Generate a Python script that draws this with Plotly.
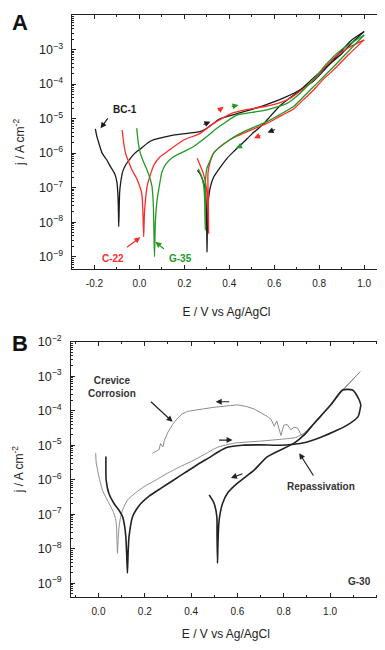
import numpy as np
import plotly.graph_objects as go

# ---------------- Panel A data (E in V vs Ag/AgCl, log10 j in A cm^-2) ----------------
bc1_fwd_E = [-0.196, -0.190, -0.180, -0.166, -0.145, -0.129, -0.110, -0.100, -0.095, -0.093, -0.092,
             -0.090, -0.088, -0.084, -0.075, -0.062, -0.040, -0.020, 0.004, 0.050, 0.150, 0.270, 0.300,
             0.360, 0.450, 0.550, 0.650, 0.720, 0.780, 0.864, 0.940, 1.000]
bc1_fwd_logj = [-5.30, -5.50, -5.72, -6.00, -6.20, -6.39, -6.60, -6.85, -7.30, -7.80, -8.13,
                -7.60, -7.15, -6.88, -6.55, -6.35, -6.15, -6.00, -5.88, -5.65, -5.48, -5.38, -5.28,
                -5.00, -4.83, -4.63, -4.38, -4.15, -3.88, -3.30, -2.75, -2.48]
bc1_rev_E = [1.000, 0.950, 0.900, 0.834, 0.770, 0.716, 0.660, 0.627, 0.580, 0.553, 0.500, 0.464,
             0.420, 0.390, 0.350, 0.330, 0.315, 0.305, 0.302, 0.301, 0.299, 0.296, 0.290, 0.280,
             0.270, 0.258]
bc1_rev_logj = [-2.48, -2.78, -3.12, -3.49, -3.85, -4.17, -4.45, -4.62, -4.95, -5.15, -5.45, -5.68,
                -5.95, -6.15, -6.50, -6.70, -7.00, -7.50, -8.30, -8.86, -8.00, -7.30, -6.95, -6.75,
                -6.60, -6.50]

c22_fwd_E = [-0.077, -0.070, -0.062, -0.045, -0.033, -0.015, -0.003, 0.008, 0.012, 0.016, 0.019,
             0.022, 0.025, 0.034, 0.050, 0.064, 0.090, 0.123, 0.197, 0.271, 0.330, 0.380, 0.410,
             0.470, 0.558, 0.620, 0.671, 0.720, 0.775, 0.820, 0.864, 0.930, 1.000]
c22_fwd_logj = [-5.33, -5.70, -6.00, -6.30, -6.49, -6.70, -6.88, -7.10, -7.26, -7.80, -8.42,
                -7.80, -7.50, -6.97, -6.60, -6.35, -6.12, -5.96, -5.62, -5.43, -5.14, -4.95, -4.85,
                -4.75, -4.65, -4.55, -4.41, -4.18, -3.88, -3.55, -3.25, -2.95, -2.72]
c22_rev_E = [1.000, 0.930, 0.864, 0.820, 0.775, 0.730, 0.686, 0.620, 0.567, 0.520, 0.479, 0.430,
             0.390, 0.350, 0.330, 0.315, 0.305, 0.306, 0.308, 0.303, 0.298, 0.285, 0.270, 0.257]
c22_rev_logj = [-2.72, -3.15, -3.59, -3.85, -4.17, -4.45, -4.72, -4.95, -5.14, -5.27, -5.38, -5.52,
                -5.67, -5.87, -6.00, -6.25, -6.58, -7.20, -8.32, -7.40, -7.00, -6.60, -6.35, -6.15]

g35_fwd_E = [-0.012, -0.005, 0.004, 0.020, 0.034, 0.050, 0.056, 0.062, 0.067, 0.071, 0.078, 0.090,
             0.100, 0.120, 0.153, 0.200, 0.241, 0.300, 0.340, 0.375, 0.434, 0.500, 0.567, 0.656,
             0.700, 0.745, 0.790, 0.834, 0.900, 1.000]
g35_fwd_logj = [-5.28, -5.70, -6.00, -6.28, -6.49, -6.80, -6.97, -7.50, -9.00, -8.00, -7.40, -6.90,
                -6.55, -6.30, -6.10, -5.95, -5.81, -5.52, -5.30, -5.14, -4.90, -4.82, -4.75, -4.56,
                -4.35, -4.07, -3.75, -3.40, -3.00, -2.58]
g35_rev_E = [1.000, 0.930, 0.864, 0.790, 0.740, 0.686, 0.620, 0.568, 0.510, 0.449, 0.400, 0.360,
             0.330, 0.316, 0.300, 0.294, 0.293, 0.290, 0.285, 0.275, 0.262]
g35_rev_logj = [-2.58, -3.05, -3.50, -3.98, -4.30, -4.65, -4.90, -5.09, -5.25, -5.43, -5.62, -5.81,
                -6.00, -6.20, -6.45, -6.80, -8.23, -7.30, -6.90, -6.65, -6.45]

# ---------------- Panel B data (G-30) ----------------
g30_fwd_E = [0.032, 0.032, 0.033, 0.045, 0.067, 0.090, 0.104, 0.113, 0.118, 0.122, 0.125, 0.128,
             0.132, 0.147, 0.165, 0.183, 0.220, 0.269, 0.320, 0.370, 0.430, 0.485, 0.520, 0.557,
             0.620, 0.700, 0.780, 0.845, 0.888, 0.960, 1.032, 1.076, 1.121, 1.133]
g30_fwd_logj = [-5.33, -5.70, -6.00, -6.40, -6.69, -6.90, -7.07, -7.35, -7.65, -8.20, -8.71, -8.10,
                -7.65, -7.07, -6.85, -6.69, -6.47, -6.25, -6.03, -5.81, -5.55, -5.33, -5.18, -5.06,
                -5.00, -4.99, -5.00, -4.97, -4.93, -4.77, -4.56, -4.41, -4.17, -3.83]
g30_rev_E = [1.133, 1.126, 1.097, 1.054, 1.003, 0.931, 0.888, 0.845, 0.730, 0.672, 0.600, 0.557,
             0.536, 0.521, 0.516, 0.514, 0.512, 0.511, 0.499, 0.478]
g30_rev_logj = [-3.83, -3.69, -3.40, -3.40, -3.83, -4.37, -4.70, -4.94, -5.33, -5.72, -6.10, -6.39,
                -6.68, -7.17, -7.80, -8.42, -7.60, -7.07, -6.68, -6.44]

g30c_fwd_E = [-0.012, -0.010, -0.004, 0.005, 0.017, 0.035, 0.053, 0.065, 0.075, 0.078, 0.080, 0.082,
              0.085, 0.089, 0.095, 0.104, 0.125, 0.160, 0.197, 0.250, 0.298, 0.360, 0.413, 0.470,
              0.514, 0.586, 0.700, 0.800, 0.850, 0.888, 0.931, 1.003, 1.054, 1.130]
g30c_fwd_logj = [-5.23, -5.50, -5.72, -6.00, -6.30, -6.55, -6.78, -6.95, -7.17, -7.40, -7.80, -8.13,
                 -7.70, -7.36, -7.10, -6.88, -6.59, -6.38, -6.20, -6.00, -5.81, -5.60, -5.43, -5.22,
                 -5.06, -4.94, -4.88, -4.82, -4.78, -4.65, -4.37, -3.83, -3.40, -2.87]
g30c_rev_E = [1.130, 1.054, 1.003, 0.931, 0.895, 0.890, 0.875, 0.860, 0.845, 0.830, 0.815, 0.800,
              0.788, 0.780, 0.770, 0.759, 0.745, 0.730, 0.700, 0.672, 0.640, 0.600, 0.570, 0.530,
              0.500, 0.450, 0.410, 0.384, 0.360, 0.341, 0.320, 0.300, 0.285, 0.278, 0.268, 0.262,
              0.250, 0.233]
g30c_rev_logj = [-2.87, -3.42, -3.85, -4.38, -4.68, -4.72, -4.70, -4.50, -4.48, -4.55, -4.40, -4.42,
                 -4.72, -4.50, -4.30, -4.45, -4.25, -4.17, -4.05, -3.95, -3.88, -3.83, -3.85, -3.87,
                 -3.90, -3.95, -3.98, -4.02, -4.10, -4.22, -4.40, -4.62, -4.85, -5.05, -4.95, -5.12,
                 -5.17, -5.23]

tick_E_A = [-0.2, 0.0, 0.2, 0.4, 0.6, 0.8, 1.0]
tick_E_B = [0.0, 0.2, 0.4, 0.6, 0.8, 1.0]

BLACK = "#1a1a1a"
RED = "#ff2a2a"
GREEN = "#229922"
GRAY = "#8c8c8c"
FONT = "Liberation Sans, Arial, sans-serif"

# page body has an 8px margin; figure is sized to fit the 385x650 window
W, H, OFF = 377, 642, 8


def px_x(X):
    return (X - OFF) / W


def px_y(Y):
    return 1 - (Y - OFF) / H


def j(vals):
    return np.power(10.0, np.array(vals))


fig = go.Figure()

series_A = [
    ("BC-1 fwd", bc1_fwd_E, bc1_fwd_logj, BLACK),
    ("BC-1 rev", bc1_rev_E, bc1_rev_logj, BLACK),
    ("C-22 fwd", c22_fwd_E, c22_fwd_logj, RED),
    ("C-22 rev", c22_rev_E, c22_rev_logj, RED),
    ("G-35 fwd", g35_fwd_E, g35_fwd_logj, GREEN),
    ("G-35 rev", g35_rev_E, g35_rev_logj, GREEN),
]
for name, ex, ly, col in series_A:
    fig.add_trace(go.Scatter(x=ex, y=j(ly), mode="lines", name=name,
                             line=dict(color=col, width=1.3, shape="spline", smoothing=0.6),
                             xaxis="x", yaxis="y", showlegend=False))

series_B = [
    ("G-30 crevice fwd", g30c_fwd_E, g30c_fwd_logj, GRAY, 1.0, "spline"),
    ("G-30 crevice rev", g30c_rev_E, g30c_rev_logj, GRAY, 1.0, "linear"),
    ("G-30 fwd", g30_fwd_E, g30_fwd_logj, "#222222", 1.6, "spline"),
    ("G-30 rev", g30_rev_E, g30_rev_logj, "#222222", 1.6, "spline"),
]
for name, ex, ly, col, w, sh in series_B:
    ln = dict(color=col, width=w, shape=sh)
    if sh == "spline":
        ln["smoothing"] = 0.6
    fig.add_trace(go.Scatter(x=ex, y=j(ly), mode="lines", name=name, line=ln,
                             xaxis="x2", yaxis="y2", showlegend=False))

axis_common = dict(showline=True, linecolor="#222", linewidth=1, mirror="ticks",
                   ticks="inside", ticklen=4, tickcolor="#222", showgrid=False, zeroline=False,
                   automargin=False,
                   tickfont=dict(family=FONT, size=10, color="#222"))
title_font = dict(family=FONT, size=12, color="#222")

xA = dict(axis_common, domain=[px_x(72), px_x(381)], range=[-0.3, 1.075], tickvals=tick_E_A,
          ticktext=[f"{v:.1f}" for v in tick_E_A], anchor="y", ticklabelstandoff=5,
          minor=dict(ticks="inside", ticklen=2, dtick=0.1, tickcolor="#222"),
          title=dict(text="E / V vs Ag/AgCl", font=title_font, standoff=19))
yA = dict(axis_common, type="log", domain=[px_y(269), px_y(15)], range=[-9.356, -2], dtick=1,
          exponentformat="power", anchor="x", ticklabelstandoff=6,
          minor=dict(ticks="inside", ticklen=2, dtick="D1", tickcolor="#222"),
          title=dict(text="j / A cm<sup>-2</sup>", font=title_font, standoff=11))
xB = dict(axis_common, domain=[px_x(70.7), px_x(381)], range=[-0.12, 1.22], tickvals=tick_E_B,
          ticktext=[f"{v:.1f}" for v in tick_E_B], anchor="y2", ticklabelstandoff=5,
          minor=dict(ticks="inside", ticklen=2, dtick=0.1, tickcolor="#222"),
          title=dict(text="E / V vs Ag/AgCl", font=title_font, standoff=13))
yB = dict(axis_common, type="log", domain=[px_y(596.7), px_y(341.7)], range=[-9.39, -2], dtick=1,
          exponentformat="power", anchor="x2", ticklabelstandoff=6,
          minor=dict(ticks="inside", ticklen=2, dtick="D1", tickcolor="#222"),
          title=dict(text="j / A cm<sup>-2</sup>", font=title_font, standoff=11))

ann = []


def label(text, x, y, xref, yref, color, size=10, bold=True):
    t = f"<b>{text}</b>" if bold else text
    ann.append(dict(text=t, x=x, y=y, xref=xref, yref=yref, showarrow=False,
                    xanchor="center", yanchor="middle",
                    font=dict(family=FONT, size=size, color=color)))


def arrow(x, y, ax, ay, xref, yref, color, width=1.2, head=2, size=1.0):
    ann.append(dict(text="", x=x, y=y, ax=ax, ay=ay, xref=xref, yref=yref,
                    axref=xref, ayref=yref, showarrow=True, arrowhead=head,
                    arrowsize=size, arrowwidth=width, arrowcolor=color))


# Panel letters
label("A", px_x(20), px_y(22), "paper", "paper", "#111", size=22)
label("B", px_x(20), px_y(344), "paper", "paper", "#111", size=22)

# Panel A labels
label("BC-1", -0.062, -4.75, "x", "y", BLACK)
arrow(-0.173, -5.28, -0.136, -4.95, "x", "y", BLACK)
label("C-22", -0.118, -9.05, "x", "y", RED)
arrow(0.004, -8.44, -0.062, -8.76, "x", "y", RED)
label("G-35", 0.185, -9.05, "x", "y", GREEN)
arrow(0.071, -8.57, 0.116, -8.81, "x", "y", GREEN)

# Panel A scan-direction arrows
arrow(0.316, -5.09, 0.279, -5.19, "x", "y", BLACK)
arrow(0.375, -4.66, 0.345, -4.80, "x", "y", RED)
arrow(0.441, -4.61, 0.404, -4.66, "x", "y", GREEN)
arrow(0.57, -5.40, 0.61, -5.30, "x", "y", BLACK)
arrow(0.51, -5.57, 0.545, -5.47, "x", "y", RED)
arrow(0.43, -5.86, 0.458, -5.77, "x", "y", GREEN)

# Panel B labels
label("Crevice<br>Corrosion", 0.06, -3.30, "x2", "y2", "#333")
arrow(0.32, -4.32, 0.22, -3.70, "x2", "y2", "#222")
label("Repassivation", 0.961, -6.20, "x2", "y2", "#333")
arrow(0.867, -5.23, 0.932, -5.92, "x2", "y2", "#222")
label("G-30", 1.126, -8.96, "x2", "y2", "#333")
arrow(0.506, -3.74, 0.571, -3.74, "x2", "y2", "#222")
arrow(0.579, -4.85, 0.514, -4.85, "x2", "y2", "#222")
arrow(0.572, -5.95, 0.628, -5.81, "x2", "y2", "#222")

fig.update_layout(
    template="none",
    width=W, height=H, margin=dict(l=0, r=0, t=0, b=0),
    paper_bgcolor="white", plot_bgcolor="white", showlegend=False,
    xaxis=xA, yaxis=yA, xaxis2=xB, yaxis2=yB, annotations=ann,
    font=dict(family=FONT, color="#222"),
)

fig.write_html("out.html")
